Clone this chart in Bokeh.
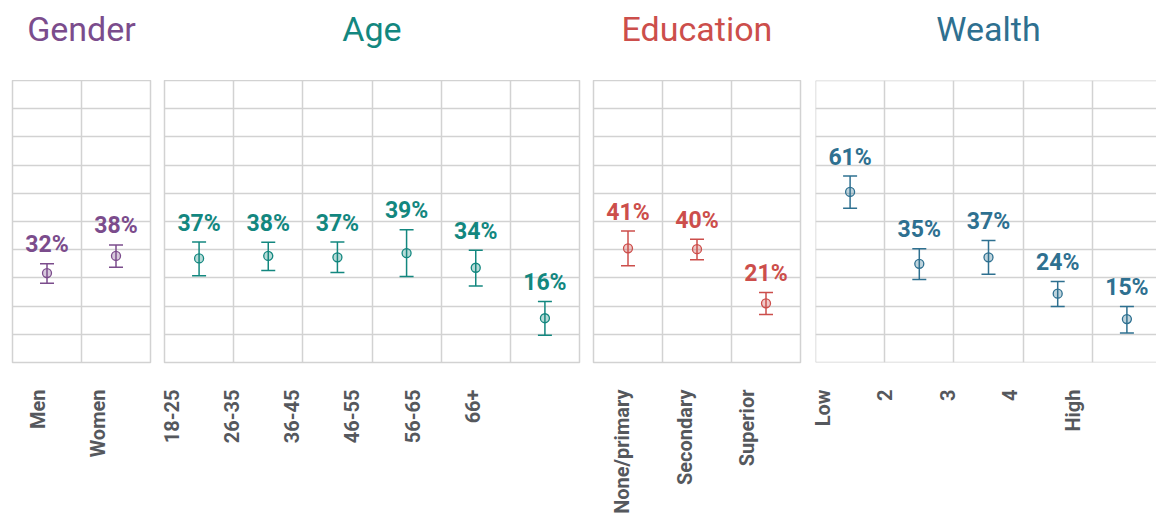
import math
from bokeh.plotting import figure
from bokeh.layouts import row, column
from bokeh.models import (ColumnDataSource, FixedTicker, CustomJSTickFormatter,
                          Range1d, Span)
from bokeh.core.properties import value
from bokeh.embed import file_html
from bokeh.resources import INLINE

# ---- data ----
gender_cats = ["Men", "Women"]
gender_val = [31.7, 37.8]
gender_lo = [28.1, 33.8]
gender_hi = [35.0, 41.7]
gender_lab = ["32%", "38%"]

age_cats = ["18-25", "26-35", "36-45", "46-55", "56-65", "66+"]
age_val = [36.9, 37.8, 37.3, 38.8, 33.6, 15.7]
age_lo = [30.8, 32.6, 31.9, 30.5, 27.1, 9.7]
age_hi = [42.7, 42.6, 42.7, 47.1, 39.8, 21.6]
age_lab = ["37%", "38%", "37%", "39%", "34%", "16%"]

edu_cats = ["None/primary", "Secondary", "Superior"]
edu_val = [40.5, 40.2, 21.0]
edu_lo = [34.3, 36.4, 17.0]
edu_hi = [46.6, 43.7, 24.8]
edu_lab = ["41%", "40%", "21%"]

wealth_cats = ["Low", "2", "3", "4", "High"]
wealth_val = [60.5, 35.0, 37.3, 24.4, 15.4]
wealth_lo = [54.7, 29.4, 31.3, 19.9, 10.5]
wealth_hi = [66.1, 40.3, 43.3, 28.7, 19.9]
wealth_lab = ["61%", "35%", "37%", "24%", "15%"]

y_ticks = list(range(0, 101, 10))

GRID = "#d2d2d2"
LABEL_COLOR = "#55585d"
FONT = "Roboto"
COL_W = 69.2


def make_panel(title, color, cats, vals, lo, hi, labs, border_left, border_right,
               lab_start, lab_step, frame_w, visible_px=None):
    n = len(cats)
    if visible_px is not None:
        frame_w = visible_px
        x_end = -0.5 + visible_px / COL_W
    else:
        x_end = n - 0.5
    xr = Range1d(-0.5, x_end)

    # ---- title strip (shares the x range, so the title is centred on the panel) ----
    t = figure(frame_width=frame_w, frame_height=80, x_range=xr,
               y_range=Range1d(0, 1), x_axis_type=None, y_axis_type=None,
               output_backend="svg", toolbar_location=None,
               min_border_left=border_left, min_border_right=border_right,
               min_border_top=0, min_border_bottom=0)
    t.outline_line_color = None
    t.xgrid.visible = False
    t.ygrid.visible = False
    tsrc = ColumnDataSource(dict(x=[(n - 1) / 2], y=[0], t=[title]))
    t.text(x="x", y="y", text="t", source=tsrc, text_align="center",
           text_baseline="alphabetic", y_offset=-52,
           text_font=value(FONT), text_font_style="normal",
           text_font_size="34px", text_color=color)

    # ---- main panel ----
    p = figure(frame_width=frame_w, frame_height=282,
               x_range=xr, y_range=Range1d(0, 100),
               output_backend="svg", toolbar_location=None,
               min_border_left=border_left, min_border_right=border_right,
               min_border_top=0, min_border_bottom=10)
    p.background_fill_color = "white"
    p.border_fill_color = "white"
    p.yaxis.visible = False

    if visible_px is None:
        p.outline_line_color = GRID
        p.outline_line_width = 1.5
    else:
        p.outline_line_color = None
        for loc, dim in ((-0.5, "height"), (0, "width"), (100, "width")):
            p.add_layout(Span(location=loc, dimension=dim,
                              line_color=GRID, line_width=1.5))
    p.xgrid.ticker = FixedTicker(ticks=[i + 0.5 for i in range(n - 1)])
    p.xgrid.grid_line_color = GRID
    p.xgrid.grid_line_width = 1.5
    p.ygrid.ticker = FixedTicker(ticks=y_ticks[1:-1])
    p.ygrid.grid_line_color = GRID
    p.ygrid.grid_line_width = 1.5

    ax = p.xaxis[0]
    ax.ticker = FixedTicker(ticks=[lab_start + lab_step * i for i in range(n)])
    ax.formatter = CustomJSTickFormatter(
        args=dict(names=cats, start=lab_start, step=lab_step),
        code="return names[Math.round((tick - start) / step)];")
    ax.axis_line_color = None
    ax.major_tick_line_color = None
    ax.minor_tick_line_color = None
    ax.major_label_orientation = math.pi / 2
    ax.major_label_standoff = 21
    ax.major_label_text_font = FONT
    ax.major_label_text_font_style = "bold"
    ax.major_label_text_font_size = "20px"
    ax.major_label_text_color = LABEL_COLOR

    src = ColumnDataSource(dict(x=list(range(n)), v=vals, lo=lo, hi=hi, lab=labs))
    p.segment(x0="x", y0="lo", x1="x", y1="hi", source=src,
              line_color=color, line_width=1.5)
    p.scatter(x="x", y="lo", source=src, marker="dash", size=14,
              line_color=color, line_width=1.5)
    p.scatter(x="x", y="hi", source=src, marker="dash", size=14,
              line_color=color, line_width=1.5)
    p.scatter(x="x", y="v", source=src, marker="circle", size=9,
              fill_color=color, fill_alpha=0.3, line_color=color, line_width=1.3)
    p.text(x="x", y="hi", text="lab", source=src, text_align="center",
           text_baseline="alphabetic", y_offset=-19,
           text_font=value(FONT), text_font_style="bold",
           text_font_size="23px", text_color=color)
    return column(t, p, spacing=0)


pg = make_panel("Gender", "#7b4c8c", gender_cats, gender_val, gender_lo, gender_hi,
                gender_lab, 12, 7, -0.124, 0.867, 138)
pa = make_panel("Age", "#13877f", age_cats, age_val, age_lo, age_hi, age_lab,
                7, 7, -0.40, 0.870, 415)
pe = make_panel("Education", "#cc4e4b", edu_cats, edu_val, edu_lo, edu_hi, edu_lab,
                7, 8, -0.08, 0.90, 207)
pw = make_panel("Wealth", "#2e7090", wealth_cats, wealth_val, wealth_lo, wealth_hi,
                wealth_lab, 7, 0, -0.39, 0.9015, 345, visible_px=341)

layout = row(pg, pa, pe, pw, spacing=0)
open("out.html", "w").write(file_html(layout, INLINE))
